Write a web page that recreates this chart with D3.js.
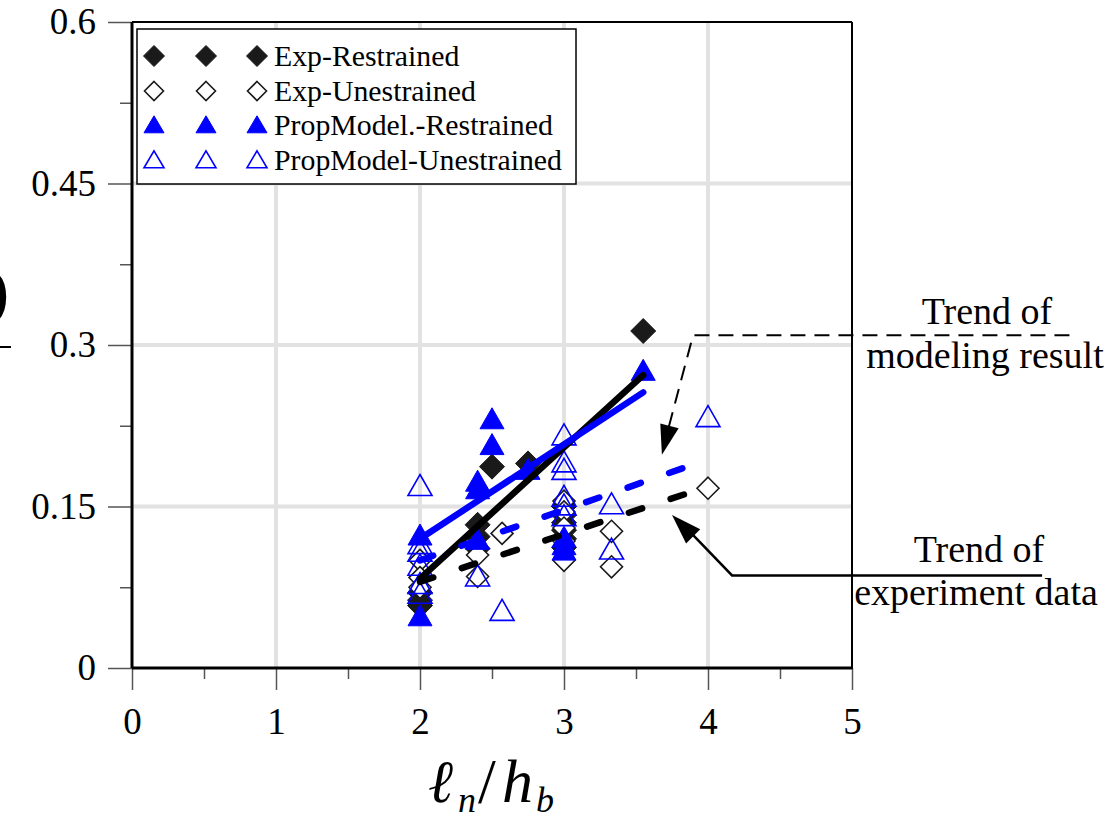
<!DOCTYPE html>
<html><head><meta charset="utf-8">
<script src="https://cdn.jsdelivr.net/npm/d3@7/dist/d3.min.js"></script>
<style>body{margin:0;background:#fff}svg{display:block}text{font-family:"Liberation Serif","Times New Roman",serif}</style>
</head><body><svg id="c" width="1109" height="823"></svg>
<script>
// ---- data ----
const xTicks = [0, 1, 2, 3, 4, 5];
const xTickLabels = ["0", "1", "2", "3", "4", "5"];
const xMinor = [0.5, 1.5, 2.5, 3.5, 4.5];
const yTicks = [0, 0.15, 0.3, 0.45, 0.6];
const yTickLabels = ["0", "0.15", "0.3", "0.45", "0.6"];
const yMinor = [0.075, 0.225, 0.375, 0.525];

const seriesNames = ["Exp-Restrained", "Exp-Unestrained", "PropModel.-Restrained", "PropModel-Unestrained"];

const expRestX = [2, 2, 2, 2.4, 2.4, 2.4, 2.5, 2.75, 3, 3, 3, 3, 3, 3, 3.55];
const expRestY = [0.070, 0.063, 0.058, 0.133, 0.122, 0.111, 0.187, 0.190, 0.150, 0.142, 0.135, 0.128, 0.120, 0.112, 0.313];

const expUnX = [2, 2, 2, 2.4, 2.4, 2.57, 3, 3, 3, 3, 3, 3.33, 3.33, 4];
const expUnY = [0.100, 0.084, 0.075, 0.105, 0.085, 0.125, 0.155, 0.145, 0.130, 0.118, 0.100, 0.127, 0.094, 0.167];

const propRestX = [2, 2, 2.4, 2.4, 2.4, 2.5, 2.5, 2.75, 3, 3, 3, 3.55];
const propRestY = [0.122, 0.047, 0.172, 0.165, 0.118, 0.230, 0.206, 0.183, 0.120, 0.113, 0.108, 0.275];

const propUnX = [2, 2, 2, 2, 2, 2, 2.4, 2.57, 3, 3, 3, 3, 3, 3, 3.33, 3.33, 4];
const propUnY = [0.168, 0.114, 0.107, 0.094, 0.077, 0.068, 0.084, 0.052, 0.215, 0.190, 0.183, 0.158, 0.150, 0.140, 0.151, 0.109, 0.232];

// trend lines
const trendExpSolidX = [2.0, 3.55], trendExpSolidY = [0.083, 0.272];
const trendPropSolidX = [2.0, 3.55], trendPropSolidY = [0.120, 0.256];
const trendPropDashX = [2.0, 3.92], trendPropDashY = [0.100, 0.190];
const trendExpDashX = [2.0, 3.92], trendExpDashY = [0.080, 0.165];

const annoModelText = ["Trend of", "modeling result"];
const annoExpText = ["Trend of", "experiment data"];

// ---- drawing ----
const svg = d3.select("#c");
const L = 132, R = 852, T = 22, B = 668;
const x = d3.scaleLinear().domain([0, 5]).range([L, R]);
const y = d3.scaleLinear().domain([0, 0.6]).range([B, T]);
const BLUE = "#0000ff";
const FONT = "Liberation Serif, Times New Roman, serif";

svg.append("rect").attr("width", 1109).attr("height", 823).attr("fill", "#fff");

// gridlines
const grid = svg.append("g").attr("stroke", "#e2e2e2").attr("stroke-width", 4);
grid.selectAll("line.v").data([1, 2, 3, 4]).join("line")
  .attr("x1", d => x(d)).attr("x2", d => x(d)).attr("y1", T).attr("y2", B);
grid.selectAll("line.h").data([0.15, 0.3, 0.45]).join("line")
  .attr("x1", L).attr("x2", R).attr("y1", d => y(d)).attr("y2", d => y(d));

// axes
function styleAxis(g) {
  g.select(".domain").remove();
  g.selectAll(".tick line").attr("stroke", "#555").attr("stroke-width", 1.5);
  g.selectAll(".tick text").attr("font-family", FONT).attr("font-size", 37).attr("fill", "#000");
}
svg.append("g").attr("transform", `translate(${L},0)`)
  .call(d3.axisLeft(y).tickValues(yTicks).tickSize(24).tickPadding(12)
    .tickFormat((d, i) => yTickLabels[i]))
  .call(styleAxis);
svg.append("g").attr("transform", `translate(${L},0)`)
  .call(d3.axisLeft(y).tickValues(yMinor).tickSize(12).tickFormat(""))
  .call(styleAxis);
svg.append("g").attr("transform", `translate(0,${B})`)
  .call(d3.axisBottom(x).tickValues(xTicks).tickSize(22).tickPadding(18)
    .tickFormat((d, i) => xTickLabels[i]))
  .call(styleAxis);
svg.append("g").attr("transform", `translate(0,${B})`)
  .call(d3.axisBottom(x).tickValues(xMinor).tickSize(11).tickFormat(""))
  .call(styleAxis);

// frame
svg.append("line").attr("x1", L).attr("x2", L).attr("y1", T).attr("y2", B).attr("stroke", "#000").attr("stroke-width", 3);
svg.append("line").attr("x1", L).attr("x2", R).attr("y1", B).attr("y2", B).attr("stroke", "#000").attr("stroke-width", 3);
svg.append("line").attr("x1", R).attr("x2", R).attr("y1", T).attr("y2", B + 1).attr("stroke", "#000").attr("stroke-width", 2);
svg.append("line").attr("x1", L).attr("x2", R).attr("y1", T).attr("y2", T).attr("stroke", "#000").attr("stroke-width", 2);

// marker shapes
const diamond = (r) => `M0,${-r}L${r},0L0,${r}L${-r},0Z`;
const triangle = (w, h) => `M0,${-h * 0.6}L${w / 2},${h * 0.4}L${-w / 2},${h * 0.4}Z`;
const styles = [
  {path: diamond(12.5), fill: "#1a1a1a", stroke: "#1a1a1a", sw: 1, lpath: diamond(10.5)},
  {path: diamond(11), fill: "#fff", stroke: "#1a1a1a", sw: 1.6, lpath: diamond(9.5)},
  {path: triangle(24, 21), fill: BLUE, stroke: BLUE, sw: 1, lpath: triangle(20, 17)},
  {path: triangle(24, 21), fill: "none", stroke: BLUE, sw: 1.6, lpath: triangle(20, 17)}
];
const seriesX = [expRestX, expUnX, propRestX, propUnX];
const seriesY = [expRestY, expUnY, propRestY, propUnY];

seriesX.forEach((xs, s) => {
  const pts = xs.map((v, i) => [v, seriesY[s][i]]);
  svg.append("g").selectAll("path").data(pts).join("path")
    .attr("d", styles[s].path)
    .attr("transform", d => `translate(${x(d[0])},${y(d[1])})`)
    .attr("fill", styles[s].fill).attr("stroke", styles[s].stroke).attr("stroke-width", styles[s].sw);
});

// trend lines
const line = d3.line().x(d => x(d[0])).y(d => y(d[1]));
function trend(xs, ys, color, dash) {
  svg.append("path").datum(xs.map((v, i) => [v, ys[i]]))
    .attr("d", line).attr("fill", "none").attr("stroke", color)
    .attr("stroke-width", 6.5).attr("stroke-linecap", "round")
    .attr("stroke-dasharray", dash || null);
}
trend(trendExpSolidX, trendExpSolidY, "#000");
trend(trendPropSolidX, trendPropSolidY, BLUE);
trend(trendPropDashX, trendPropDashY, BLUE, "14,30");
trend(trendExpDashX, trendExpDashY, "#000", "14,30");

// legend
const lg = svg.append("g");
lg.append("rect").attr("x", 137).attr("y", 29).attr("width", 439).attr("height", 155)
  .attr("fill", "#fff").attr("stroke", "#000").attr("stroke-width", 1.5);
const rowY = [56, 91, 125, 160];
const markX = [154, 206, 257];
seriesNames.forEach((name, s) => {
  markX.forEach(mx => {
    lg.append("path").attr("d", styles[s].lpath)
      .attr("transform", `translate(${mx},${rowY[s] + (s >= 2 ? 1 : 0)})`)
      .attr("fill", styles[s].fill).attr("stroke", styles[s].stroke).attr("stroke-width", styles[s].sw);
  });
  lg.append("text").attr("x", 274).attr("y", rowY[s] + 10)
    .attr("font-family", FONT).attr("font-size", 29.8).attr("fill", "#000").text(name);
});

// annotations
const an = svg.append("g");
an.append("path")
  .attr("d", `M${x(6.51)},${y(0.309)}L${x(3.896)},${y(0.309)}L${x(3.71)},${y(0.215)}`)
  .attr("fill", "none").attr("stroke", "#000").attr("stroke-width", 2).attr("stroke-dasharray", "15,9");
function arrowHead(tx, ty, sx, sy, len, hw) {
  const a = Math.atan2(ty - sy, tx - sx);
  const bx = tx - len * Math.cos(a), by = ty - len * Math.sin(a);
  an.append("path").attr("d", `M${tx},${ty}L${bx + hw * Math.sin(a)},${by - hw * Math.cos(a)}L${bx - hw * Math.sin(a)},${by + hw * Math.cos(a)}Z`).attr("fill", "#000");
}
arrowHead(x(3.68), y(0.198), x(3.896), y(0.309), 30, 9.5);
an.append("path")
  .attr("d", `M${x(6.32)},${y(0.086)}L${x(4.167)},${y(0.086)}L${x(3.85)},${y(0.13)}`)
  .attr("fill", "none").attr("stroke", "#000").attr("stroke-width", 2.5);
arrowHead(x(3.75), y(0.142), x(4.167), y(0.086), 30, 10);
const at = (t, cx, by) => an.append("text").attr("x", cx).attr("y", by).attr("text-anchor", "middle")
  .attr("font-family", FONT).attr("font-size", 38).attr("fill", "#000").text(t);
at(annoModelText[0], 987, 324);
at(annoModelText[1], 985, 368);
at(annoExpText[0], 979, 562);
at(annoExpText[1], 976, 605);

// x-axis label: l_n / h_b
const lab = (t, xx, yy, size, italic) => svg.append("text").attr("x", xx).attr("y", yy)
  .attr("font-family", FONT).attr("font-size", size).attr("font-style", italic ? "italic" : "normal")
  .attr("fill", "#000").text(t);
lab("ℓ", 428, 802, 60, true);
lab("n", 458, 812, 36, true);
lab("/", 478, 803, 64, false);
lab("h", 502, 802, 62, true);
lab("b", 536, 812, 36, true);

// partially visible y-axis label glyph at the left edge
svg.append("text").attr("x", 10).attr("y", 327).attr("text-anchor", "end")
  .attr("font-family", FONT).attr("font-size", 92).attr("fill", "#000").text("O");
svg.append("line").attr("x1", 0).attr("x2", 11).attr("y1", 347).attr("y2", 347).attr("stroke", "#000").attr("stroke-width", 2);
</script></body></html>
